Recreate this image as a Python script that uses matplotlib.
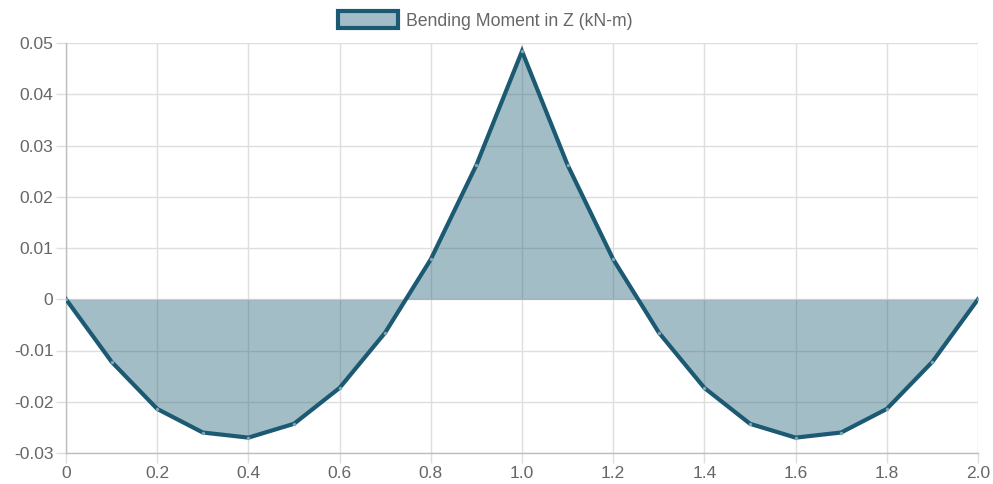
import matplotlib.pyplot as plt
import numpy as np

x = [0, 0.1, 0.2, 0.3, 0.4, 0.5, 0.6, 0.7, 0.8, 0.9, 1.0,
     1.1, 1.2, 1.3, 1.4, 1.5, 1.6, 1.7, 1.8, 1.9, 2.0]
moment = [0, -0.0122, -0.0214, -0.0260, -0.0270, -0.0243, -0.0173, -0.0065, 0.0078, 0.0262, 0.0484,
          0.0262, 0.0078, -0.0065, -0.0173, -0.0243, -0.0270, -0.0260, -0.0214, -0.0122, 0]
x_ticks = [0, 0.2, 0.4, 0.6, 0.8, 1.0, 1.2, 1.4, 1.6, 1.8, 2.0]
x_labels = ['0', '0.2', '0.4', '0.6', '0.8', '1.0', '1.2', '1.4', '1.6', '1.8', '2.0']
y_ticks = [-0.03, -0.02, -0.01, 0, 0.01, 0.02, 0.03, 0.04, 0.05]
y_labels = ['-0.03', '-0.02', '-0.01', '0', '0.01', '0.02', '0.03', '0.04', '0.05']

line_c = '#1b5a72'
fill_c = '#a3bdc8'

plt.rcParams['font.family'] = ['Liberation Sans', 'DejaVu Sans']

fig = plt.figure(figsize=(9.93, 4.84), dpi=100)
ax = fig.add_axes([66 / 993, 31 / 484, 912 / 993, 410 / 484])

# translucent fill so the grid shows through, like chart.js
ax.fill_between(x, moment, 0, color=line_c, alpha=0.4, linewidth=0, zorder=2)
ax.plot(x, moment, color=line_c, linewidth=3, solid_joinstyle='miter', zorder=3)
ax.plot(x, moment, linestyle='none', marker='o', markersize=2.5,
        markerfacecolor='#7fa3b2', markeredgewidth=0, zorder=4)

ax.set_xlim(0, 2.0)
ax.set_ylim(-0.03, 0.05)
ax.set_xticks(x_ticks, x_labels)
ax.set_yticks(y_ticks, y_labels)

ax.grid(True, color='#dedede', linewidth=1, zorder=1)
ax.set_axisbelow(True)
ax.tick_params(axis='both', length=7, width=1, color='#dedede',
               labelsize=12.5, labelcolor='#666666', pad=2)
for s in ['top', 'right']:
    ax.spines[s].set_visible(False)
for s in ['left', 'bottom']:
    ax.spines[s].set_color('#bdbdbd')
    ax.spines[s].set_linewidth(1)

# legend box
handle = plt.Rectangle((0, 0), 1, 1, facecolor=fill_c, edgecolor=line_c, linewidth=3)
fig.legend([handle], ['Bending Moment in Z (kN-m)'], loc='upper center',
           bbox_to_anchor=(0.489, 1.0), frameon=False, fontsize=12.7,
           labelcolor='#666666', handlelength=3.4, handleheight=1.1,
           handletextpad=0.45, borderaxespad=0.25)

fig.savefig('out.png', dpi=100)
